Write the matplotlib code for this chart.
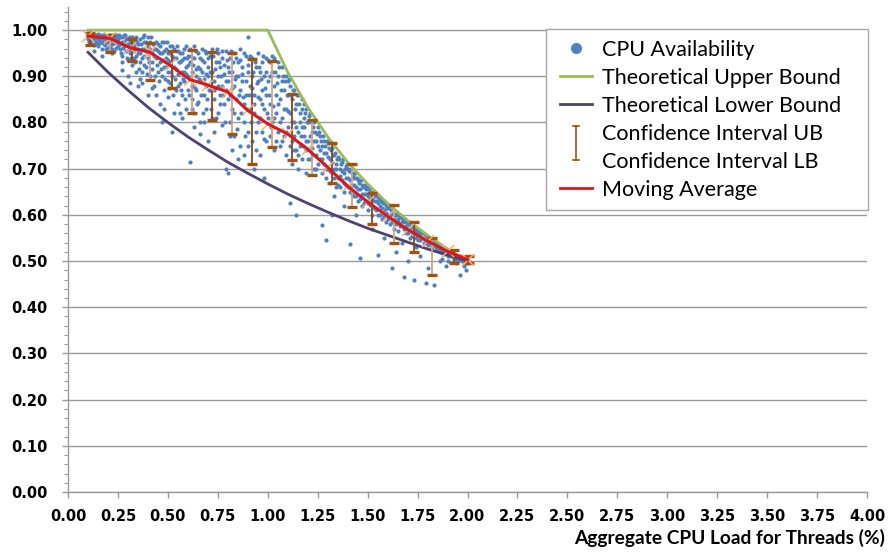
import matplotlib
matplotlib.use("Agg")
import matplotlib.pyplot as plt
from matplotlib.lines import Line2D
from matplotlib.patches import Rectangle
from matplotlib.legend_handler import HandlerBase
from matplotlib.ticker import MultipleLocator, FormatStrFormatter

# ---------------- data ----------------
cpu_points = [
    (0.10,0.99),(0.10,0.98),(0.11,0.995),(0.11,0.975),(0.12,0.985),(0.12,0.97),(0.13,0.99),(0.13,0.98),
    (0.14,0.975),(0.14,0.99),(0.15,0.985),(0.15,0.965),(0.16,0.98),(0.16,0.99),(0.17,0.975),(0.17,0.985),
    (0.18,0.97),(0.18,0.99),(0.19,0.98),(0.19,0.96),(0.20,0.985),(0.20,0.975),(0.21,0.99),(0.21,0.965),
    (0.22,0.98),(0.22,0.97),(0.23,0.985),(0.23,0.955),(0.24,0.975),(0.24,0.99),(0.25,0.965),(0.25,0.98),
    (0.13,0.955),(0.17,0.945),(0.22,0.95),
    (0.26,0.985),(0.26,0.96),(0.27,0.975),(0.27,0.945),(0.28,0.99),(0.28,0.965),(0.29,0.955),(0.29,0.98),
    (0.30,0.97),(0.30,0.935),(0.30,0.90),(0.31,0.985),(0.31,0.95),(0.32,0.965),(0.32,0.925),(0.33,0.975),
    (0.33,0.94),(0.34,0.96),(0.34,0.985),(0.35,0.95),(0.35,0.88),(0.35,0.97),(0.36,0.93),(0.36,0.98),
    (0.37,0.96),(0.37,0.91),(0.38,0.945),(0.38,0.975),(0.39,0.955),(0.39,0.92),(0.40,0.965),(0.40,0.985),
    (0.40,0.94),(0.41,0.90),(0.41,0.975),(0.42,0.95),(0.42,0.93),(0.43,0.96),(0.43,0.88),(0.44,0.975),
    (0.44,0.94),(0.45,0.955),(0.45,0.91),(0.32,0.96),(0.38,0.99),(0.27,0.93),(0.31,0.885),(0.37,0.885),
    (0.40,0.86),(0.27,0.913),
    (0.46,0.965),(0.46,0.93),(0.46,0.84),(0.47,0.95),(0.47,0.90),(0.47,0.80),(0.48,0.975),(0.48,0.92),
    (0.48,0.87),(0.49,0.94),(0.49,0.96),(0.50,0.91),(0.50,0.855),(0.50,0.95),(0.51,0.93),(0.51,0.965),
    (0.51,0.885),(0.52,0.78),(0.52,0.945),(0.52,0.90),(0.53,0.92),(0.53,0.96),(0.54,0.87),(0.54,0.94),
    (0.55,0.905),(0.55,0.955),(0.55,0.84),(0.56,0.93),(0.56,0.885),(0.57,0.95),(0.57,0.91),(0.57,0.86),
    (0.58,0.94),(0.58,0.89),(0.59,0.965),(0.59,0.92),(0.59,0.83),(0.60,0.90),(0.60,0.945),(0.60,0.87),
    (0.53,0.82),(0.57,0.81),
    (0.61,0.714),(0.61,0.93),(0.61,0.96),(0.62,0.88),(0.62,0.91),(0.62,0.85),(0.63,0.94),(0.63,0.82),
    (0.64,0.90),(0.64,0.955),(0.64,0.87),(0.65,0.92),(0.65,0.845),(0.66,0.94),(0.66,0.89),(0.66,0.80),
    (0.67,0.96),(0.67,0.91),(0.68,0.86),(0.68,0.93),(0.69,0.88),(0.69,0.95),(0.69,0.83),(0.70,0.90),
    (0.70,0.92),(0.70,0.76),(0.71,0.945),(0.71,0.87),(0.72,0.81),(0.72,0.91),(0.72,0.96),(0.73,0.89),
    (0.73,0.85),(0.74,0.93),(0.74,0.875),(0.75,0.95),(0.75,0.90),(0.75,0.82),(0.76,0.86),(0.76,0.92),
    (0.77,0.94),(0.77,0.88),(0.77,0.795),(0.78,0.905),(0.78,0.84),(0.79,0.955),(0.79,0.87),(0.80,0.92),
    (0.80,0.89),(0.80,0.69),(0.79,0.70),(0.66,0.775),
    (0.81,0.94),(0.81,0.86),(0.81,0.80),(0.82,0.91),(0.82,0.83),(0.83,0.95),(0.83,0.88),(0.83,0.77),
    (0.84,0.90),(0.84,0.85),(0.85,0.93),(0.85,0.81),(0.86,0.96),(0.86,0.87),(0.86,0.75),(0.87,0.89),
    (0.87,0.92),(0.88,0.84),(0.88,0.80),(0.89,0.945),(0.89,0.86),(0.90,0.985),(0.90,0.91),(0.90,0.78),
    (0.91,0.88),(0.91,0.83),(0.92,0.94),(0.92,0.90),(0.92,0.76),(0.93,0.86),(0.93,0.82),(0.94,0.92),
    (0.94,0.74),(0.95,0.89),(0.95,0.95),(0.95,0.80),(0.96,0.85),(0.96,0.91),(0.97,0.93),(0.97,0.78),
    (0.97,0.87),(0.98,0.83),(0.98,0.90),(0.99,0.94),(0.99,0.76),(0.99,0.86),(1.00,0.89),(1.00,0.81),
    (0.85,0.72),(0.93,0.70),(0.98,0.68),
    (1.01,0.93),(1.01,0.84),(1.01,0.77),(1.02,0.91),(1.02,0.80),(1.03,0.88),(1.03,0.94),(1.03,0.74),
    (1.04,0.86),(1.04,0.82),(1.05,0.90),(1.05,0.78),(1.05,0.93),(1.06,0.85),(1.06,0.75),(1.07,0.89),
    (1.07,0.81),(1.07,0.92),(1.08,0.77),(1.08,0.87),(1.09,0.83),(1.09,0.90),(1.09,0.73),(1.10,0.86),
    (1.10,0.79),(1.10,0.89),
    (1.11,0.626),(1.11,0.88),(1.11,0.82),(1.12,0.76),(1.12,0.85),(1.12,0.71),(1.13,0.87),(1.13,0.80),
    (1.14,0.74),(1.14,0.60),(1.14,0.84),(1.15,0.78),(1.15,0.86),(1.15,0.70),(1.16,0.82),(1.16,0.75),
    (1.17,0.85),(1.17,0.79),(1.17,0.72),(1.18,0.81),(1.18,0.77),(1.19,0.83),(1.19,0.74),(1.19,0.69),
    (1.20,0.80),(1.20,0.76),(1.21,0.82),(1.21,0.72),(1.22,0.78),(1.22,0.745),(1.23,0.80),(1.23,0.70),
    (1.24,0.76),(1.24,0.73),(1.25,0.79),(1.25,0.71),(1.13,0.77),(1.18,0.84),
    (1.26,0.77),(1.26,0.72),(1.27,0.578),(1.27,0.75),(1.27,0.69),(1.28,0.76),(1.28,0.71),(1.29,0.545),
    (1.29,0.735),(1.29,0.68),(1.30,0.755),(1.30,0.70),(1.31,0.72),(1.31,0.67),(1.32,0.745),(1.32,0.69),
    (1.33,0.73),(1.33,0.70),(1.34,0.71),(1.34,0.66),(1.35,0.725),(1.35,0.68),(1.36,0.70),(1.36,0.66),
    (1.37,0.715),(1.37,0.675),(1.38,0.69),(1.38,0.65),(1.39,0.705),(1.39,0.665),(1.40,0.68),(1.40,0.70),
    (1.41,0.537),(1.41,0.65),(1.42,0.69),(1.42,0.665),(1.43,0.64),(1.43,0.68),(1.44,0.66),(1.45,0.675),
    (1.45,0.63),(1.46,0.507),(1.46,0.655),(1.47,0.665),(1.47,0.62),(1.48,0.645),(1.49,0.655),(1.49,0.63),
    (1.50,0.64),(1.50,0.61),(1.33,0.64),(1.38,0.62),(1.44,0.60),(1.32,0.60),
    (1.51,0.621),(1.51,0.65),(1.52,0.635),(1.52,0.60),(1.53,0.645),(1.53,0.615),(1.54,0.63),(1.55,0.513),
    (1.55,0.64),(1.55,0.60),(1.56,0.62),(1.57,0.63),(1.57,0.59),(1.58,0.61),(1.59,0.62),(1.59,0.585),
    (1.60,0.60),(1.60,0.615),(1.61,0.58),(1.62,0.485),(1.62,0.605),(1.63,0.59),(1.63,0.57),(1.64,0.60),
    (1.65,0.585),(1.65,0.565),(1.66,0.595),(1.67,0.575),(1.68,0.465),(1.68,0.585),(1.69,0.56),(1.70,0.58),
    (1.70,0.57),(1.71,0.55),(1.72,0.575),(1.73,0.459),(1.73,0.56),(1.74,0.565),(1.75,0.545),(1.76,0.56),
    (1.77,0.55),(1.78,0.555),(1.79,0.452),(1.79,0.54),(1.80,0.55),(1.80,0.485),(1.81,0.545),(1.82,0.535),
    (1.83,0.448),(1.83,0.54),(1.84,0.53),(1.85,0.535),(1.86,0.525),(1.87,0.53),(1.88,0.52),(1.89,0.49),
    (1.89,0.525),(1.90,0.515),(1.91,0.52),(1.92,0.51),(1.93,0.515),(1.94,0.505),(1.95,0.51),(1.96,0.47),
    (1.96,0.505),(1.97,0.50),(1.98,0.505),(1.99,0.495),(2.00,0.50),(2.01,0.498),(1.99,0.48),(1.58,0.55),
    (1.64,0.52),(1.70,0.50),(1.76,0.51),(1.86,0.50),(1.52,0.57),(1.67,0.54),(1.74,0.53),
]

cpu_points_more = [
    (0.10,0.985),(0.105,0.975),(0.11,0.985),(0.115,0.99),(0.12,0.978),(0.125,0.992),(0.13,0.968),(0.135,0.985),
    (0.14,0.982),(0.145,0.97),(0.15,0.992),(0.155,0.978),(0.16,0.972),(0.165,0.985),(0.17,0.96),(0.175,0.99),
    (0.18,0.98),(0.185,0.968),(0.19,0.988),(0.195,0.975),(0.20,0.962),(0.205,0.99),(0.21,0.978),(0.215,0.985),
    (0.22,0.96),(0.225,0.99),(0.23,0.972),(0.235,0.982),(0.24,0.962),(0.245,0.985),(0.25,0.975),(0.255,0.99),
    (0.26,0.97),(0.265,0.95),(0.27,0.985),(0.275,0.962),(0.28,0.975),(0.285,0.99),(0.29,0.968),(0.295,0.94),
    (0.30,0.982),(0.305,0.96),(0.31,0.975),(0.315,0.94),(0.32,0.985),(0.325,0.955),
    (0.33,0.965),(0.335,0.93),(0.34,0.945),(0.345,0.975),(0.35,0.96),(0.355,0.915),(0.36,0.95),(0.365,0.97),
    (0.37,0.94),(0.375,0.985),(0.38,0.925),(0.385,0.96),(0.39,0.975),(0.395,0.905),(0.40,0.95),(0.405,0.93),
    (0.41,0.96),(0.415,0.985),(0.42,0.915),(0.425,0.97),(0.43,0.945),(0.435,0.90),(0.44,0.96),(0.445,0.925),
    (0.45,0.97),(0.455,0.89),(0.46,0.95),(0.465,0.915),(0.47,0.975),(0.475,0.935),(0.48,0.955),(0.485,0.895),
    (0.49,0.92),(0.495,0.975),(0.50,0.935),(0.505,0.875),(0.51,0.95),(0.515,0.91),(0.52,0.965),(0.525,0.86),
    (0.36,0.895),(0.42,0.875),(0.44,0.86),(0.48,0.83),(0.50,0.89),(0.34,0.91),
    (0.53,0.94),(0.535,0.895),(0.54,0.915),(0.545,0.965),(0.55,0.88),(0.555,0.93),(0.56,0.95),(0.565,0.87),
    (0.57,0.935),(0.575,0.895),(0.58,0.96),(0.585,0.85),(0.59,0.905),(0.595,0.94),(0.60,0.925),(0.605,0.86),
    (0.61,0.895),(0.615,0.945),(0.62,0.83),(0.625,0.925),(0.63,0.965),(0.635,0.875),(0.64,0.915),(0.645,0.84),
    (0.65,0.95),(0.655,0.895),(0.66,0.915),(0.665,0.86),(0.67,0.935),(0.675,0.82),(0.68,0.895),(0.685,0.955),
    (0.69,0.905),(0.695,0.85),(0.70,0.94),(0.705,0.87),(0.71,0.91),(0.715,0.83),(0.72,0.89),(0.725,0.945),
    (0.73,0.87),(0.735,0.915),(0.74,0.81),(0.745,0.96),(0.75,0.88),(0.56,0.82),(0.63,0.79),(0.68,0.80),
    (0.73,0.78),(0.58,0.91),
    (0.755,0.93),(0.76,0.84),(0.765,0.90),(0.77,0.955),(0.775,0.86),(0.78,0.925),(0.785,0.80),(0.79,0.89),
    (0.795,0.935),(0.80,0.85),(0.805,0.91),(0.81,0.77),(0.815,0.955),(0.82,0.875),(0.825,0.93),(0.83,0.82),
    (0.835,0.895),(0.84,0.94),(0.845,0.785),(0.85,0.90),(0.855,0.86),(0.86,0.935),(0.865,0.82),(0.87,0.905),
    (0.875,0.855),(0.88,0.95),(0.885,0.77),(0.89,0.89),(0.895,0.83),(0.90,0.925),(0.905,0.86),(0.91,0.945),
    (0.915,0.80),(0.92,0.875),(0.925,0.91),(0.93,0.84),(0.935,0.93),(0.94,0.78),(0.945,0.885),(0.95,0.855),
    (0.955,0.92),(0.96,0.81),(0.965,0.895),(0.97,0.84),(0.975,0.945),(0.98,0.765),(0.985,0.875),(0.99,0.91),
    (0.995,0.82),(1.00,0.935),(0.82,0.74),(0.88,0.73),(0.96,0.73),(0.90,0.75),
    (1.005,0.86),(1.01,0.90),(1.015,0.79),(1.02,0.945),(1.025,0.835),(1.03,0.81),(1.035,0.91),(1.04,0.76),
    (1.045,0.885),(1.05,0.84),(1.055,0.92),(1.06,0.80),(1.065,0.87),(1.07,0.76),(1.075,0.90),(1.08,0.83),
    (1.085,0.89),(1.09,0.78),(1.095,0.86),(1.10,0.825),(1.105,0.895),(1.11,0.75),(1.115,0.86),(1.12,0.80),
    (1.125,0.87),(1.13,0.74),(1.135,0.83),(1.14,0.79),(1.145,0.86),(1.15,0.73),(1.155,0.84),(1.16,0.80),
    (1.165,0.77),(1.17,0.83),(1.175,0.75),(1.18,0.79),(1.185,0.82),(1.19,0.76),(1.195,0.80),(1.20,0.72),
    (1.205,0.815),(1.21,0.77),(1.215,0.80),(1.22,0.73),(1.225,0.79),(1.23,0.76),(1.235,0.78),(1.24,0.70),
    (1.245,0.775),(1.25,0.75),
    (1.255,0.78),(1.26,0.74),(1.265,0.76),(1.27,0.72),(1.275,0.77),(1.28,0.735),(1.285,0.75),(1.29,0.70),
    (1.295,0.76),(1.30,0.725),(1.305,0.745),(1.31,0.695),(1.315,0.74),(1.32,0.715),(1.325,0.73),(1.33,0.68),
    (1.335,0.735),(1.34,0.70),(1.345,0.72),(1.35,0.665),(1.355,0.72),(1.36,0.685),(1.365,0.71),(1.37,0.695),
    (1.375,0.72),(1.38,0.67),(1.385,0.70),(1.39,0.68),(1.395,0.71),(1.40,0.66),(1.405,0.695),(1.41,0.675),
    (1.415,0.70),(1.42,0.645),(1.425,0.685),(1.43,0.665),(1.435,0.69),(1.44,0.64),(1.445,0.68),(1.45,0.655),
    (1.455,0.67),(1.46,0.635),(1.465,0.675),(1.47,0.645),(1.475,0.66),(1.48,0.625),(1.485,0.665),(1.49,0.645),
    (1.495,0.66),(1.50,0.625),
    (1.505,0.655),(1.51,0.635),(1.515,0.645),(1.52,0.62),(1.525,0.65),(1.53,0.63),(1.535,0.64),(1.54,0.61),
    (1.545,0.64),(1.55,0.625),(1.555,0.635),(1.56,0.60),(1.565,0.63),(1.57,0.615),(1.575,0.625),(1.58,0.595),
    (1.585,0.625),(1.59,0.605),(1.595,0.615),(1.60,0.59),(1.605,0.62),(1.61,0.60),(1.615,0.61),(1.62,0.585),
    (1.625,0.61),(1.63,0.60),(1.635,0.60),(1.64,0.58),(1.645,0.605),(1.65,0.59),(1.655,0.60),(1.66,0.575),
    (1.665,0.595),(1.67,0.585),(1.675,0.59),(1.68,0.57),(1.685,0.59),(1.69,0.575),(1.695,0.585),(1.70,0.56),
    (1.705,0.585),(1.71,0.57),(1.715,0.575),(1.72,0.555),(1.725,0.575),(1.73,0.565),(1.735,0.57),(1.74,0.55),
    (1.745,0.57),(1.75,0.56),(1.755,0.565),(1.76,0.545),(1.765,0.56),(1.77,0.555),(1.775,0.56),(1.78,0.54),
    (1.785,0.555),(1.79,0.55),(1.795,0.55),(1.80,0.535),(1.805,0.55),(1.81,0.54),(1.815,0.545),(1.82,0.53),
    (1.825,0.545),(1.83,0.535),(1.835,0.54),(1.84,0.525),(1.845,0.535),(1.85,0.53),(1.855,0.53),(1.86,0.52),
    (1.865,0.53),(1.87,0.52),(1.875,0.525),(1.88,0.515),(1.885,0.52),(1.89,0.515),(1.895,0.52),(1.90,0.51),
    (1.91,0.51),(1.92,0.515),(1.93,0.505),(1.94,0.51),(1.95,0.50),(1.96,0.51),(1.97,0.505),(1.98,0.50),
    (1.99,0.505),(2.00,0.495),(1.98,0.49),(1.94,0.495),(1.90,0.50),(1.87,0.505),
]

upper_x = [0.10, 1.00, 1.10, 1.20, 1.30, 1.40, 1.50, 1.60, 1.70, 1.80, 1.90, 2.00]
upper_y = [1.000, 1.000, 0.909, 0.833, 0.769, 0.714, 0.667, 0.625, 0.588, 0.556, 0.526, 0.500]

lower_x = [0.10, 0.20, 0.30, 0.40, 0.50, 0.60, 0.70, 0.80, 0.90, 1.00,
           1.10, 1.20, 1.30, 1.40, 1.50, 1.60, 1.70, 1.80, 1.90, 2.00]
lower_y = [0.952, 0.909, 0.870, 0.833, 0.800, 0.769, 0.741, 0.714, 0.690, 0.667,
           0.645, 0.625, 0.606, 0.588, 0.571, 0.556, 0.541, 0.526, 0.513, 0.500]

ci_x = [0.11, 0.21, 0.32, 0.41, 0.52, 0.62, 0.72, 0.82, 0.92, 1.02,
        1.12, 1.22, 1.32, 1.42, 1.52, 1.63, 1.73, 1.82, 1.93, 2.01]
ci_ub = [0.993, 0.989, 0.980, 0.973, 0.955, 0.957, 0.952, 0.950, 0.937, 0.934,
         0.861, 0.805, 0.756, 0.711, 0.647, 0.621, 0.584, 0.549, 0.525, 0.511]
ci_lb = [0.967, 0.953, 0.934, 0.892, 0.875, 0.820, 0.805, 0.774, 0.711, 0.746,
         0.719, 0.686, 0.668, 0.616, 0.580, 0.538, 0.520, 0.470, 0.495, 0.495]

mavg_x = [0.10, 0.21, 0.31, 0.41, 0.51, 0.61, 0.70, 0.80, 0.90, 1.00,
          1.10, 1.20, 1.30, 1.40, 1.50, 1.60, 1.70, 1.80, 1.90, 2.00]
mavg_y = [0.987, 0.982, 0.962, 0.952, 0.924, 0.893, 0.881, 0.866, 0.826, 0.797,
          0.775, 0.742, 0.703, 0.662, 0.628, 0.597, 0.568, 0.543, 0.521, 0.503]

x_ticks = [0.0, 0.25, 0.5, 0.75, 1.0, 1.25, 1.5, 1.75, 2.0, 2.25, 2.5, 2.75, 3.0, 3.25, 3.5, 3.75, 4.0]
x_label = "Aggregate CPU Load for Threads (%)"

# ---------------- figure ----------------
W, H = 890, 552
fig = plt.figure(figsize=(W / 100, H / 100), dpi=100)
ax = fig.add_axes([68 / W, 60 / H, (867 - 68) / W, (552 - 60 - 7) / H])

grid_c = "#9a9a9a"
ax.set_xlim(0, 4.0)
ax.set_ylim(0, 1.05)
ax.set_yticks([i / 10 for i in range(11)])
ax.yaxis.set_minor_locator(MultipleLocator(0.02))
ax.set_xticks(x_ticks)
ax.yaxis.set_major_formatter(FormatStrFormatter("%.2f"))
ax.xaxis.set_major_formatter(FormatStrFormatter("%.2f"))
ax.yaxis.grid(True, which="major", color=grid_c, lw=1.0)
ax.set_axisbelow(True)
for s in ("top", "right"):
    ax.spines[s].set_visible(False)
for s in ("left", "bottom"):
    ax.spines[s].set_color(grid_c)
    ax.spines[s].set_linewidth(1.0)
ax.tick_params(axis="y", which="major", length=4.5, width=1, color=grid_c, pad=10)
ax.tick_params(axis="y", which="minor", length=3, width=0.8, color=grid_c)
ax.tick_params(axis="x", which="major", length=4, width=1, color=grid_c, pad=8)
for lab in ax.get_xticklabels() + ax.get_yticklabels():
    lab.set_fontweight("bold")
    lab.set_fontsize(10.5)
    lab.set_family("DejaVu Sans")

# scatter
all_pts = cpu_points + cpu_points_more
px = [p[0] for p in all_pts]
py = [p[1] for p in all_pts]
ax.scatter(px, py, s=9, color="#4F81BD", linewidths=0, zorder=3)

# bounds
ax.plot(upper_x, upper_y, color="#9BBB59", lw=2, zorder=4)
ax.plot(lower_x, lower_y, color="#4E4272", lw=2, zorder=4)

# confidence intervals
for i, (xc, u, l) in enumerate(zip(ci_x, ci_ub, ci_lb)):
    c = "#8B4513" if i % 2 == 0 else "#D4A27E"
    ax.plot([xc, xc], [l, u], color=c, lw=1.3, zorder=5)
ax.plot(ci_x, ci_ub, ls="none", marker="_", ms=6.5, mew=2.4, color="#A0520F", zorder=6)
ax.plot(ci_x, ci_lb, ls="none", marker="_", ms=6.5, mew=2.4, color="#A0520F", zorder=6)

# moving average
ax.plot(mavg_x, mavg_y, ls="none", marker="x", ms=8, mew=1.1, color="#F7B07A", zorder=6)
ax.plot(mavg_x, mavg_y, color="#D7191C", lw=2.2, zorder=7)

# x label
fig.text(885 / W, 14 / H, x_label, ha="right", va="center",
         fontsize=13.8, fontweight="bold", family="Lato")


class IBeamHandler(HandlerBase):
    def create_artists(self, legend, orig_handle, xdescent, ydescent, width, height, fontsize, trans):
        xc = width / 2 - xdescent
        top = height * 0.9
        bot = -height * 1.35
        cap = width * 0.1
        c = "#A0520F"
        return [Line2D([xc, xc], [bot, top], color=c, lw=1.2, transform=trans),
                Line2D([xc - cap, xc + cap], [top, top], color=c, lw=1.2, transform=trans),
                Line2D([xc - cap, xc + cap], [bot, bot], color=c, lw=1.2, transform=trans)]


class BlankHandler(HandlerBase):
    def create_artists(self, legend, orig_handle, xdescent, ydescent, width, height, fontsize, trans):
        return [Line2D([0], [0], color="none", transform=trans)]


# legend frame drawn separately (wider padding than matplotlib's symmetric borderpad)
frame = Rectangle((546 / W, 1 - 210 / H), (868 - 546) / W, (210 - 29) / H,
                  transform=fig.transFigure, facecolor="white", edgecolor="#a6a6a6",
                  lw=1.0, zorder=9, clip_on=False)
ax.add_patch(frame)

h_sc = Line2D([], [], ls="none", marker="o", ms=7, color="#4F81BD")
h_ub = Line2D([], [], color="#9BBB59", lw=2)
h_lb = Line2D([], [], color="#4E4272", lw=2)
h_ci1 = Line2D([], [])
h_ci2 = Line2D([], [], color="none")
h_ma = Line2D([], [], color="#D7191C", lw=2)
leg = ax.legend([h_sc, h_ub, h_lb, h_ci1, h_ci2, h_ma],
                ["CPU Availability", "Theoretical Upper Bound", "Theoretical Lower Bound",
                 "Confidence Interval UB", "Confidence Interval LB", "Moving Average"],
                handler_map={h_ci1: IBeamHandler(), h_ci2: BlankHandler()},
                loc="upper left", bbox_to_anchor=(549 / W, 1 - 29 / H),
                bbox_transform=fig.transFigure, borderaxespad=0,
                prop={"family": "Lato", "size": 15.5}, frameon=False,
                handlelength=1.5, handletextpad=0.47,
                labelspacing=0.37, borderpad=0.5)
leg.set_zorder(10)

fig.savefig("out.png", dpi=100)
